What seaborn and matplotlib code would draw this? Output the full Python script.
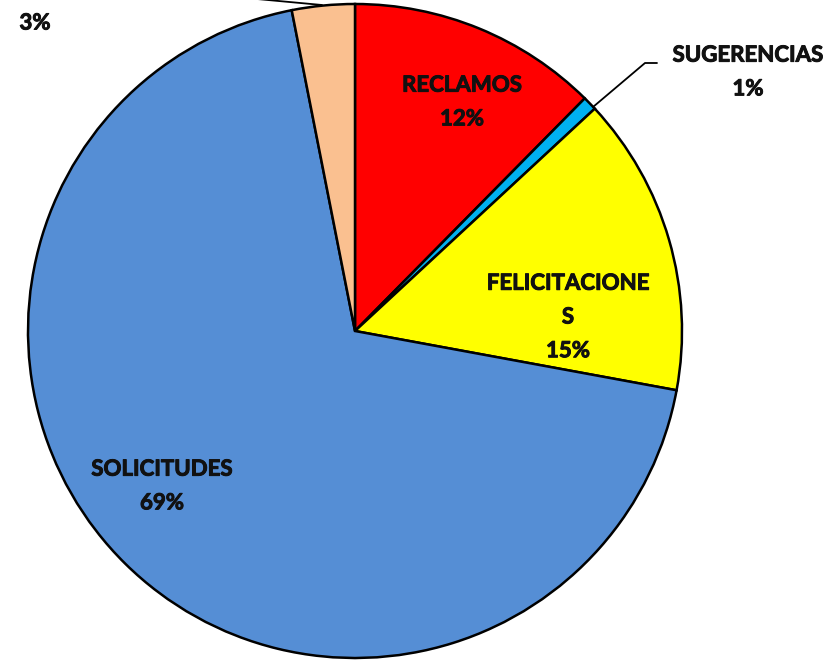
import seaborn as sns
import matplotlib.pyplot as plt
import matplotlib.patheffects as pe

# datos (porcentajes)
categorias = ["RECLAMOS", "SUGERENCIAS", "FELICITACIONE\nS", "SOLICITUDES", ""]
valores = [12.4, 0.7, 14.8, 69.0, 3.1]
colores = ["#FF0000", "#00B0F0", "#FFFF00", "#558ED5", "#FAC090"]

sns.set_style("white")
plt.rcParams["font.family"] = ["Lato", "DejaVu Sans"]

W, H = 839, 661
fig = plt.figure(figsize=(W / 100, H / 100), dpi=100)
cx, cy, R = 355, 331, 327
ax = fig.add_axes([(cx - R) / W, (H - cy - R) / H, 2 * R / W, 2 * R / H])

ax.pie(valores, colors=colores, startangle=90, counterclock=False, radius=1,
       wedgeprops=dict(edgecolor="black", linewidth=1.8))
ax.set_xlim(-1, 1)
ax.set_ylim(-1, 1)
ax.set_aspect("equal")
ax.axis("off")

def px(x, y):
    return (x - cx) / R, (cy - y) / R

# posiciones de las etiquetas (en píxeles de la imagen)
pos_etiquetas = [(462, 102), (748, 72), (568, 317), (162, 486), (35, 23)]
grueso = [pe.withStroke(linewidth=0.7, foreground="#111111")]
for cat, v, (x, y) in zip(categorias, valores, pos_etiquetas):
    txt = f"{cat}\n{round(v)}%" if cat else f"{round(v)}%"
    ax.text(*px(x, y), txt, ha="center", va="center", fontsize=16,
            fontweight="bold", color="#111111", linespacing=1.75,
            clip_on=False, path_effects=grueso)

# líneas guía
x1, y1 = px(593, 107); x2, y2 = px(645, 63); x3, y3 = px(657, 63)
ax.plot([x1, x2, x3], [y1, y2, y3], color="black", lw=1.3, clip_on=False)
x1, y1 = px(257, -1); x2, y2 = px(322, 5)
ax.plot([x1, x2], [y1, y2], color="black", lw=1.3, clip_on=False)

fig.savefig("out.png", dpi=100)
